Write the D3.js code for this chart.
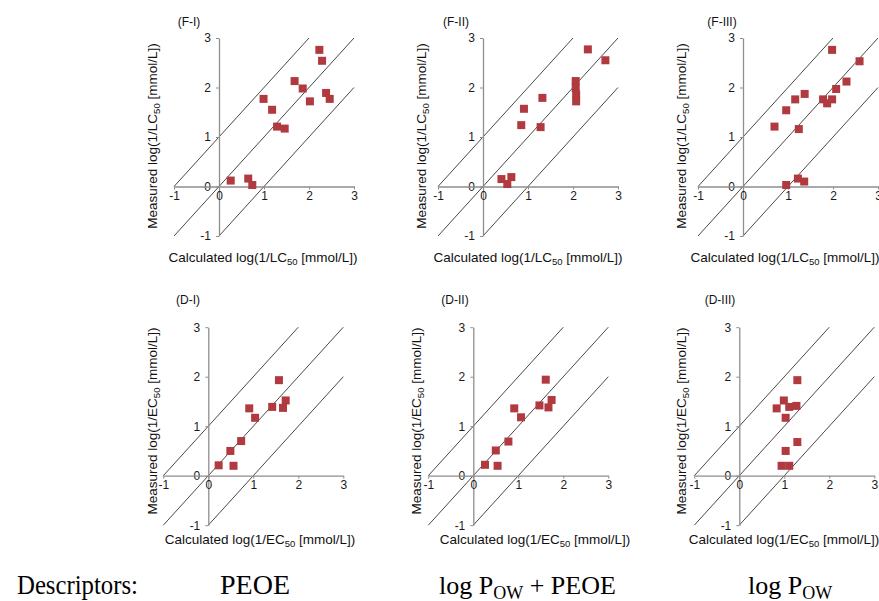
<!DOCTYPE html>
<html>
<head>
<meta charset="utf-8">
<script src="https://cdn.jsdelivr.net/npm/d3@7"></script>
<style>
  body { margin: 0; background: #fff; }
  svg { display: block; }
</style>
</head>
<body>
<svg id="chart" width="879" height="601"></svg>
<script>
// Axis ticks shared by every panel
const tickValues = [-1, 0, 1, 2, 3];
// Reference lines: measured = calculated + offset
const lineOffsets = [1, 0, -1];

// Fish toxicity, log(1/LC50): calculated vs measured
const fICalc   = [2.23, 2.29, 1.68, 1.86, 2.02, 2.38, 2.46, 0.99, 1.18, 1.29, 1.46, 0.26, 0.65, 0.74];
const fIMeas   = [2.76, 2.54, 2.13, 1.98, 1.72, 1.89, 1.77, 1.77, 1.55, 1.21, 1.17, 0.12, 0.16, 0.03];
const fIICalc  = [2.33, 2.72, 2.06, 2.06, 2.07, 2.07, 1.32, 0.91, 0.85, 1.28, 0.41, 0.63, 0.54];
const fIIMeas  = [2.77, 2.55, 2.13, 1.99, 1.86, 1.72, 1.79, 1.57, 1.24, 1.20, 0.15, 0.19, 0.05];
const fIIICalc = [1.98, 2.59, 2.30, 2.07, 1.37, 1.16, 1.78, 1.87, 1.98, 0.96, 0.70, 1.24, 0.96, 1.22, 1.36];
const fIIIMeas = [2.76, 2.53, 2.12, 1.97, 1.87, 1.76, 1.76, 1.68, 1.76, 1.54, 1.21, 1.16, 0.03, 0.16, 0.10];

// Daphnia toxicity, log(1/EC50): calculated vs measured
const dICalc   = [1.57, 1.72, 1.66, 1.42, 0.91, 1.04, 0.73, 0.49, 0.23, 0.56];
const dIMeas   = [1.93, 1.52, 1.37, 1.39, 1.36, 1.17, 0.70, 0.50, 0.21, 0.20];
const dIICalc  = [1.61, 1.74, 1.67, 1.47, 0.91, 1.06, 0.78, 0.50, 0.26, 0.54];
const dIIMeas  = [1.94, 1.53, 1.38, 1.42, 1.36, 1.18, 0.69, 0.51, 0.22, 0.20];
const dIIICalc = [1.29, 0.99, 0.83, 1.11, 1.27, 1.03, 1.29, 1.03, 0.94, 1.11];
const dIIIMeas = [1.93, 1.52, 1.36, 1.39, 1.41, 1.17, 0.68, 0.50, 0.20, 0.20];

const panelTitles = ["(F-I)", "(F-II)", "(F-III)", "(D-I)", "(D-II)", "(D-III)"];
const endpoints = ["LC", "LC", "LC", "EC", "EC", "EC"];

const series = [
  [fICalc, fIMeas], [fIICalc, fIIMeas], [fIIICalc, fIIIMeas],
  [dICalc, dIMeas], [dIICalc, dIIMeas], [dIIICalc, dIIIMeas]
];

// Panel placement: origin pixel of (0,0) and label anchors
const layout = [
  { ox: 219,   oy: 186.5, tx: 189, ty: 26,  lx: 157, ly: 136, bx: 263, by: 262 },
  { ox: 483,   oy: 186.5, tx: 456, ty: 26,  lx: 426, ly: 136, bx: 528, by: 262 },
  { ox: 743,   oy: 186.5, tx: 722, ty: 26,  lx: 686, ly: 136, bx: 785, by: 262 },
  { ox: 208.3, oy: 475.7, tx: 188, ty: 304, lx: 157, ly: 421, bx: 260, by: 544 },
  { ox: 473.3, oy: 475.7, tx: 455, ty: 304, lx: 421, ly: 421, bx: 535, by: 544 },
  { ox: 739.3, oy: 475.7, tx: 720, ty: 304, lx: 686, ly: 421, bx: 784, by: 544 }
];

const UX = 45, UY = 49.5;
const sansFont = "'Liberation Sans', Arial, sans-serif";
const serifFont = "'Liberation Serif', 'Times New Roman', serif";
const axisGrey = "#8e8e8e";
const markerColor = "#b03a3f";

const svg = d3.select("#chart");

// Writes "prefix" + subscript + "suffix" into a text element
function subText(sel, prefix, sub, suffix, subSize, shift) {
  sel.append("tspan").text(prefix);
  sel.append("tspan").attr("font-size", subSize).attr("dy", shift).text(sub);
  if (suffix) sel.append("tspan").attr("dy", -shift).text(suffix);
}

series.forEach(([calc, meas], i) => {
  const L = layout[i];
  const x = d3.scaleLinear().domain([-1, 3]).range([L.ox - UX, L.ox + 3 * UX]);
  const y = d3.scaleLinear().domain([-1, 3]).range([L.oy + UY, L.oy - 3 * UY]);
  const g = svg.append("g");

  // diagonal reference lines
  lineOffsets.forEach(c => {
    const x1 = Math.max(-1, -1 - c), x2 = Math.min(3, 3 - c);
    g.append("line")
      .attr("x1", x(x1)).attr("y1", y(x1 + c))
      .attr("x2", x(x2)).attr("y2", y(x2 + c))
      .attr("stroke", "#1a1a1a").attr("stroke-width", 0.8);
  });

  // axes crossing at the origin
  const yAxis = g.append("g").attr("transform", `translate(${L.ox},0)`)
    .call(d3.axisLeft(y).tickValues(tickValues).tickSize(3).tickSizeOuter(0)
      .tickPadding(5).tickFormat(d => String(d)));
  const xAxis = g.append("g").attr("transform", `translate(0,${L.oy})`)
    .call(d3.axisBottom(x).tickValues(tickValues).tickSize(3).tickSizeOuter(0)
      .tickPadding(2).tickFormat(d => String(d)));
  [xAxis, yAxis].forEach(a => {
    a.select(".domain").attr("stroke", axisGrey).attr("stroke-width", 1.3);
    a.selectAll(".tick line").attr("stroke", axisGrey).attr("stroke-width", 1);
    a.selectAll(".tick text").attr("fill", "#1a1a1a")
      .style("font-family", sansFont).style("font-size", "12px");
  });

  // panel title
  svg.append("text").attr("x", L.tx).attr("y", L.ty)
    .attr("text-anchor", "middle").attr("fill", "#111")
    .style("font-family", sansFont).style("font-size", "12px")
    .text(panelTitles[i]);

  // y-axis title
  const yt = svg.append("text")
    .attr("transform", `translate(${L.lx},${L.ly}) rotate(-90)`)
    .attr("text-anchor", "middle").attr("fill", "#111")
    .style("font-family", sansFont).style("font-size", "13.5px");
  subText(yt, `Measured log(1/${endpoints[i]}`, "50", " [mmol/L])", "9.5px", 3);

  // x-axis title
  const xt = svg.append("text")
    .attr("x", L.bx).attr("y", L.by)
    .attr("text-anchor", "middle").attr("fill", "#111")
    .style("font-family", sansFont).style("font-size", "13.5px");
  subText(xt, `Calculated log(1/${endpoints[i]}`, "50", " [mmol/L])", "9.5px", 3);

  // data points
  g.selectAll("rect.pt").data(d3.zip(calc, meas)).join("rect")
    .attr("class", "pt")
    .attr("x", d => x(d[0]) - 4).attr("y", d => y(d[1]) - 4)
    .attr("width", 8).attr("height", 8)
    .attr("fill", markerColor);
});

// descriptor captions under each column
const descriptorsTitle = "Descriptors:";
const captionY = 594;
const capStyle = sel => sel.attr("fill", "#000")
  .style("font-family", serifFont).style("font-size", "27px");

svg.append("text").attr("x", 17).attr("y", captionY).call(capStyle)
  .attr("textLength", 121).attr("lengthAdjust", "spacingAndGlyphs")
  .text(descriptorsTitle);
svg.append("text").attr("x", 220).attr("y", captionY).call(capStyle)
  .attr("textLength", 70).attr("lengthAdjust", "spacingAndGlyphs")
  .text("PEOE");

const c2 = svg.append("text").attr("x", 439).attr("y", captionY).call(capStyle)
  .style("font-size", "26px");
subText(c2, "log P", "OW", " + PEOE", "18px", 5);

const c3 = svg.append("text").attr("x", 748).attr("y", captionY).call(capStyle)
  .style("font-size", "26px");
subText(c3, "log P", "OW", "", "18px", 5);
</script>
</body>
</html>
